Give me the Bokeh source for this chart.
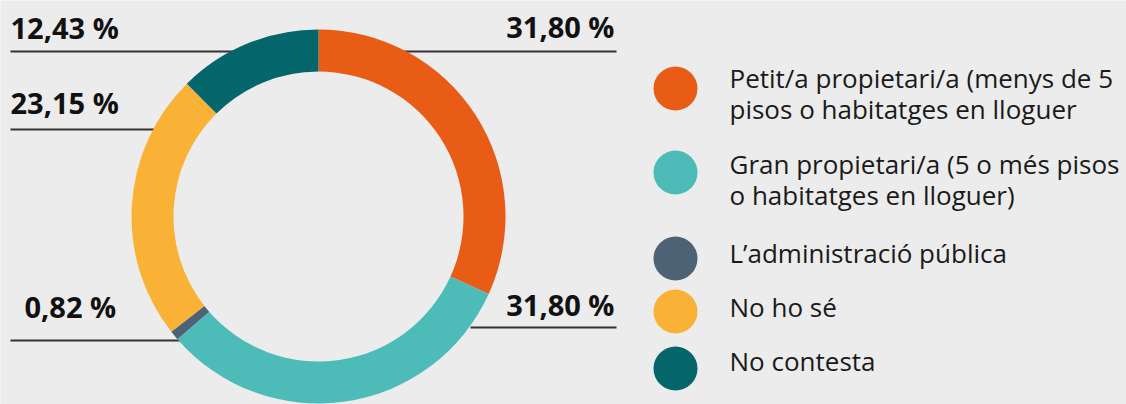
import math
from bokeh.plotting import figure
from bokeh.models import Range1d, ColumnDataSource
from bokeh.core.properties import value
from bokeh.embed import file_html
from bokeh.resources import INLINE

# ---------------- data ----------------
categories = [
    "Petit/a propietari/a (menys de 5\npisos o habitatges en lloguer",
    "Gran propietari/a (5 o més pisos\no habitatges en lloguer)",
    "L\u2019administració pública",
    "No ho sé",
    "No contesta",
]
shares = [31.80, 31.80, 0.82, 23.15, 12.43]
share_labels = ["31,80 %", "31,80 %", "0,82 %", "23,15 %", "12,43 %"]
colors = ["#E95C15", "#4DBBB8", "#4E6275", "#F9B236", "#04666A"]

# ---------------- layout (page pixels, y downward) ----------------
W, H = 1126, 404
BG = "#ececec"
CX, CY = 318, 216
R_OUT, R_IN = 187, 145
LABEL_DY = -10
LEGEND_DY = -9

# label anchor (x, baseline y, align) and leader line (x0, x1, y)
label_layout = [
    (614, 36, "right", 395, 616, 51),
    (614, 314, "right", 470, 616, 327),
    (24, 316, "left", 10, 180, 340),
    (10, 112, "left", 10, 160, 129),
    (10, 37, "left", 10, 240, 51),
]
legend_x_dot, legend_x_text = 675, 729
legend_dot_y = [88, 172, 258, 311, 368]
legend_text_y = [86, 172, 261, 315, 369]
LINE_H = 31

p = figure(width=W, height=H, output_backend="svg", toolbar_location=None,
           x_range=Range1d(0, W), y_range=Range1d(-H, 0),
           min_border=0, background_fill_color=BG, border_fill_color=BG,
           outline_line_color=None)
p.axis.visible = False
p.grid.visible = False

# leader lines (under the ring)
for (_, _, _, x0, x1, ly) in label_layout:
    p.line([x0, x1], [-ly, -ly], line_color="#333333", line_width=2)

# donut
total = sum(shares)
starts, ends = [], []
cum = 0.0
for s in shares:
    starts.append(math.pi / 2 - 2 * math.pi * cum / total)
    cum += s
    ends.append(math.pi / 2 - 2 * math.pi * cum / total)
src = ColumnDataSource(dict(start=starts, end=ends, color=colors))
p.annular_wedge(x=CX, y=-CY, inner_radius=R_IN, outer_radius=R_OUT,
                start_angle="start", end_angle="end", direction="clock",
                fill_color="color", line_color=None, source=src)

# percentage labels
for lab, (tx, ty, al, *_rest) in zip(share_labels, label_layout):
    p.text(x=[tx], y=[-(ty + LABEL_DY)], text=[lab], text_align=al,
           text_baseline="alphabetic",
           text_font=value("Open Sans"), text_font_style="bold",
           text_font_size="29px", text_color="#111111")

# legend
p.scatter(x=[legend_x_dot] * len(colors), y=[-v for v in legend_dot_y],
          size=44, marker="circle", fill_color=colors, line_color=None)
for cat, ty in zip(categories, legend_text_y):
    for k, line in enumerate(cat.split("\n")):
        p.text(x=[legend_x_text], y=[-(ty + LEGEND_DY + k * LINE_H)], text=[line],
               text_align="left", text_baseline="alphabetic",
               text_font=value("Open Sans"), text_font_size="26px",
               text_color="#1a1a1a")

html = file_html(p, INLINE)
html = html.replace("<body>", '<body style="background:%s">' % BG, 1)
open("out.html", "w").write(html)
